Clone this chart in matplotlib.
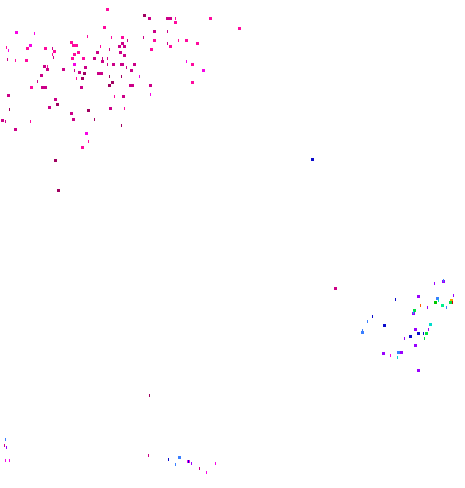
import matplotlib
matplotlib.use("Agg")
import matplotlib.pyplot as plt
from matplotlib.path import Path

# Embedding coordinates (x, y) and colour class of each point
wide_x = [106,143,148,166,169,174,209,238,103,15,153,121,153,185,196,70,72,75,29,26,44,53,77,73,
          118,121,123,96,119,123,169,150,25,71,82,93,101,73,43,46,62,84,112,120,133,130,191,202,
          83,97,100,40,81,111,108,129,131,149,191,30,41,44,80,7,122,54,56,48,109,87,70,1,72,14,85,
          81,54,57,78,
          311,334,
          442,436,450,450,449,434,441,413,412,383,429,414,361,417,425,409,414,382,397,399,400,417,417,
          178,187]
wide_y = [8,14,17,17,17,21,17,27,26,31,30,36,39,39,42,41,44,44,44,47,47,50,51,53,
          45,42,45,51,51,54,45,48,59,57,57,57,60,63,65,68,68,66,63,63,63,69,63,69,
          72,72,72,74,77,81,84,84,84,84,81,86,86,86,86,94,95,98,103,106,107,109,112,119,118,128,132,
          146,159,189,71,
          158,287,
          280,297,299,301,301,301,304,309,312,324,323,328,331,332,332,335,344,352,351,351,351,369,295,
          456,460]
wide_c = ["P","K","D","D","D","P","P","P","P","M","D","P","P","P","P","P","P","P","M","P","P","P","P","P",
          "D","D","D","D","D","D","P","P","P","P","P","D","D","M","D","D","D","D","D","D","D","D","P","M",
          "K","D","D","D","K","K","K","D","D","D","P","P","D","D","D","D","D","D","K","D","D","K","D","D","D","D","M",
          "P","K","K","D",
          "B","D",
          "V","L","Y","R","G","G2","T","G","V","B","C","V","L","B","G","B","V","V","L","L","V","V","V",
          "L","M"]

thin_x = [175,34,167,87,111,143,178,127,6,8,52,52,53,100,109,167,7,15,102,107,47,74,107,123,126,186,
          76,37,109,121,139,114,150,9,124,5,30,94,121,88,
          434,443,453,395,438,420,427,446,372,367,428,362,423,404,424,390,397,413,
          149,5,4,6,5,9,148,168,175,188,191,199,206,215]
thin_y = [17,32,30,35,36,36,39,39,46,49,47,53,56,45,48,42,58,59,57,57,65,69,63,63,66,60,
          77,80,75,75,75,95,93,108,107,120,120,118,124,140,
          282,279,294,298,299,304,306,306,315,320,328,329,332,337,337,354,356,311,
          394,438,444,446,459,459,454,458,463,460,462,467,471,462]
thin_c = ["P","M","D","P","P","D","P","D","P","M","D","P","D","P","D","D","D","P","D","D","P","D","D","D","D","M",
          "P","D","K","K","M","P","M","K","P","D","P","K","K","P",
          "V","L","V","B","C","O","V","L","B","L","V","L","B","V","G","M","C","C",
          "K","L","D","V","M","M","D","B","L","B","V","D","M","M"]

palette = {"P": "#ff0a9e", "M": "#f505e6", "D": "#cc0088", "K": "#a00060",
           "V": "#9a00ff", "B": "#0a0acc", "L": "#3a7fff", "C": "#00dccc",
           "G": "#00e040", "G2": "#00c800", "T": "#00f090", "O": "#ff5a00",
           "R": "#c80000", "Y": "#ffa000"}

fig = plt.figure(figsize=(4.65, 4.88), dpi=100)
ax = fig.add_axes([0, 0, 1, 1])
ax.set_xlim(0, 465)
ax.set_ylim(488, 0)
ax.axis("off")

thin_marker = Path([(-0.17, -0.5), (0.17, -0.5), (0.17, 0.5), (-0.17, 0.5), (-0.17, -0.5)],
                   [Path.MOVETO, Path.LINETO, Path.LINETO, Path.LINETO, Path.CLOSEPOLY])

sc1 = ax.scatter([v + 1.5 for v in wide_x], [v + 1.5 for v in wide_y],
                 c=[palette[k] for k in wide_c], marker="s", s=4.7, linewidths=0)
sc2 = ax.scatter([v + 0.5 for v in thin_x], [v + 1.5 for v in thin_y],
                 c=[palette[k] for k in thin_c], marker=thin_marker, s=4.7, linewidths=0)
sc1.set_antialiased(False)
sc2.set_antialiased(False)

fig.savefig("out.png", dpi=100, facecolor="white")
